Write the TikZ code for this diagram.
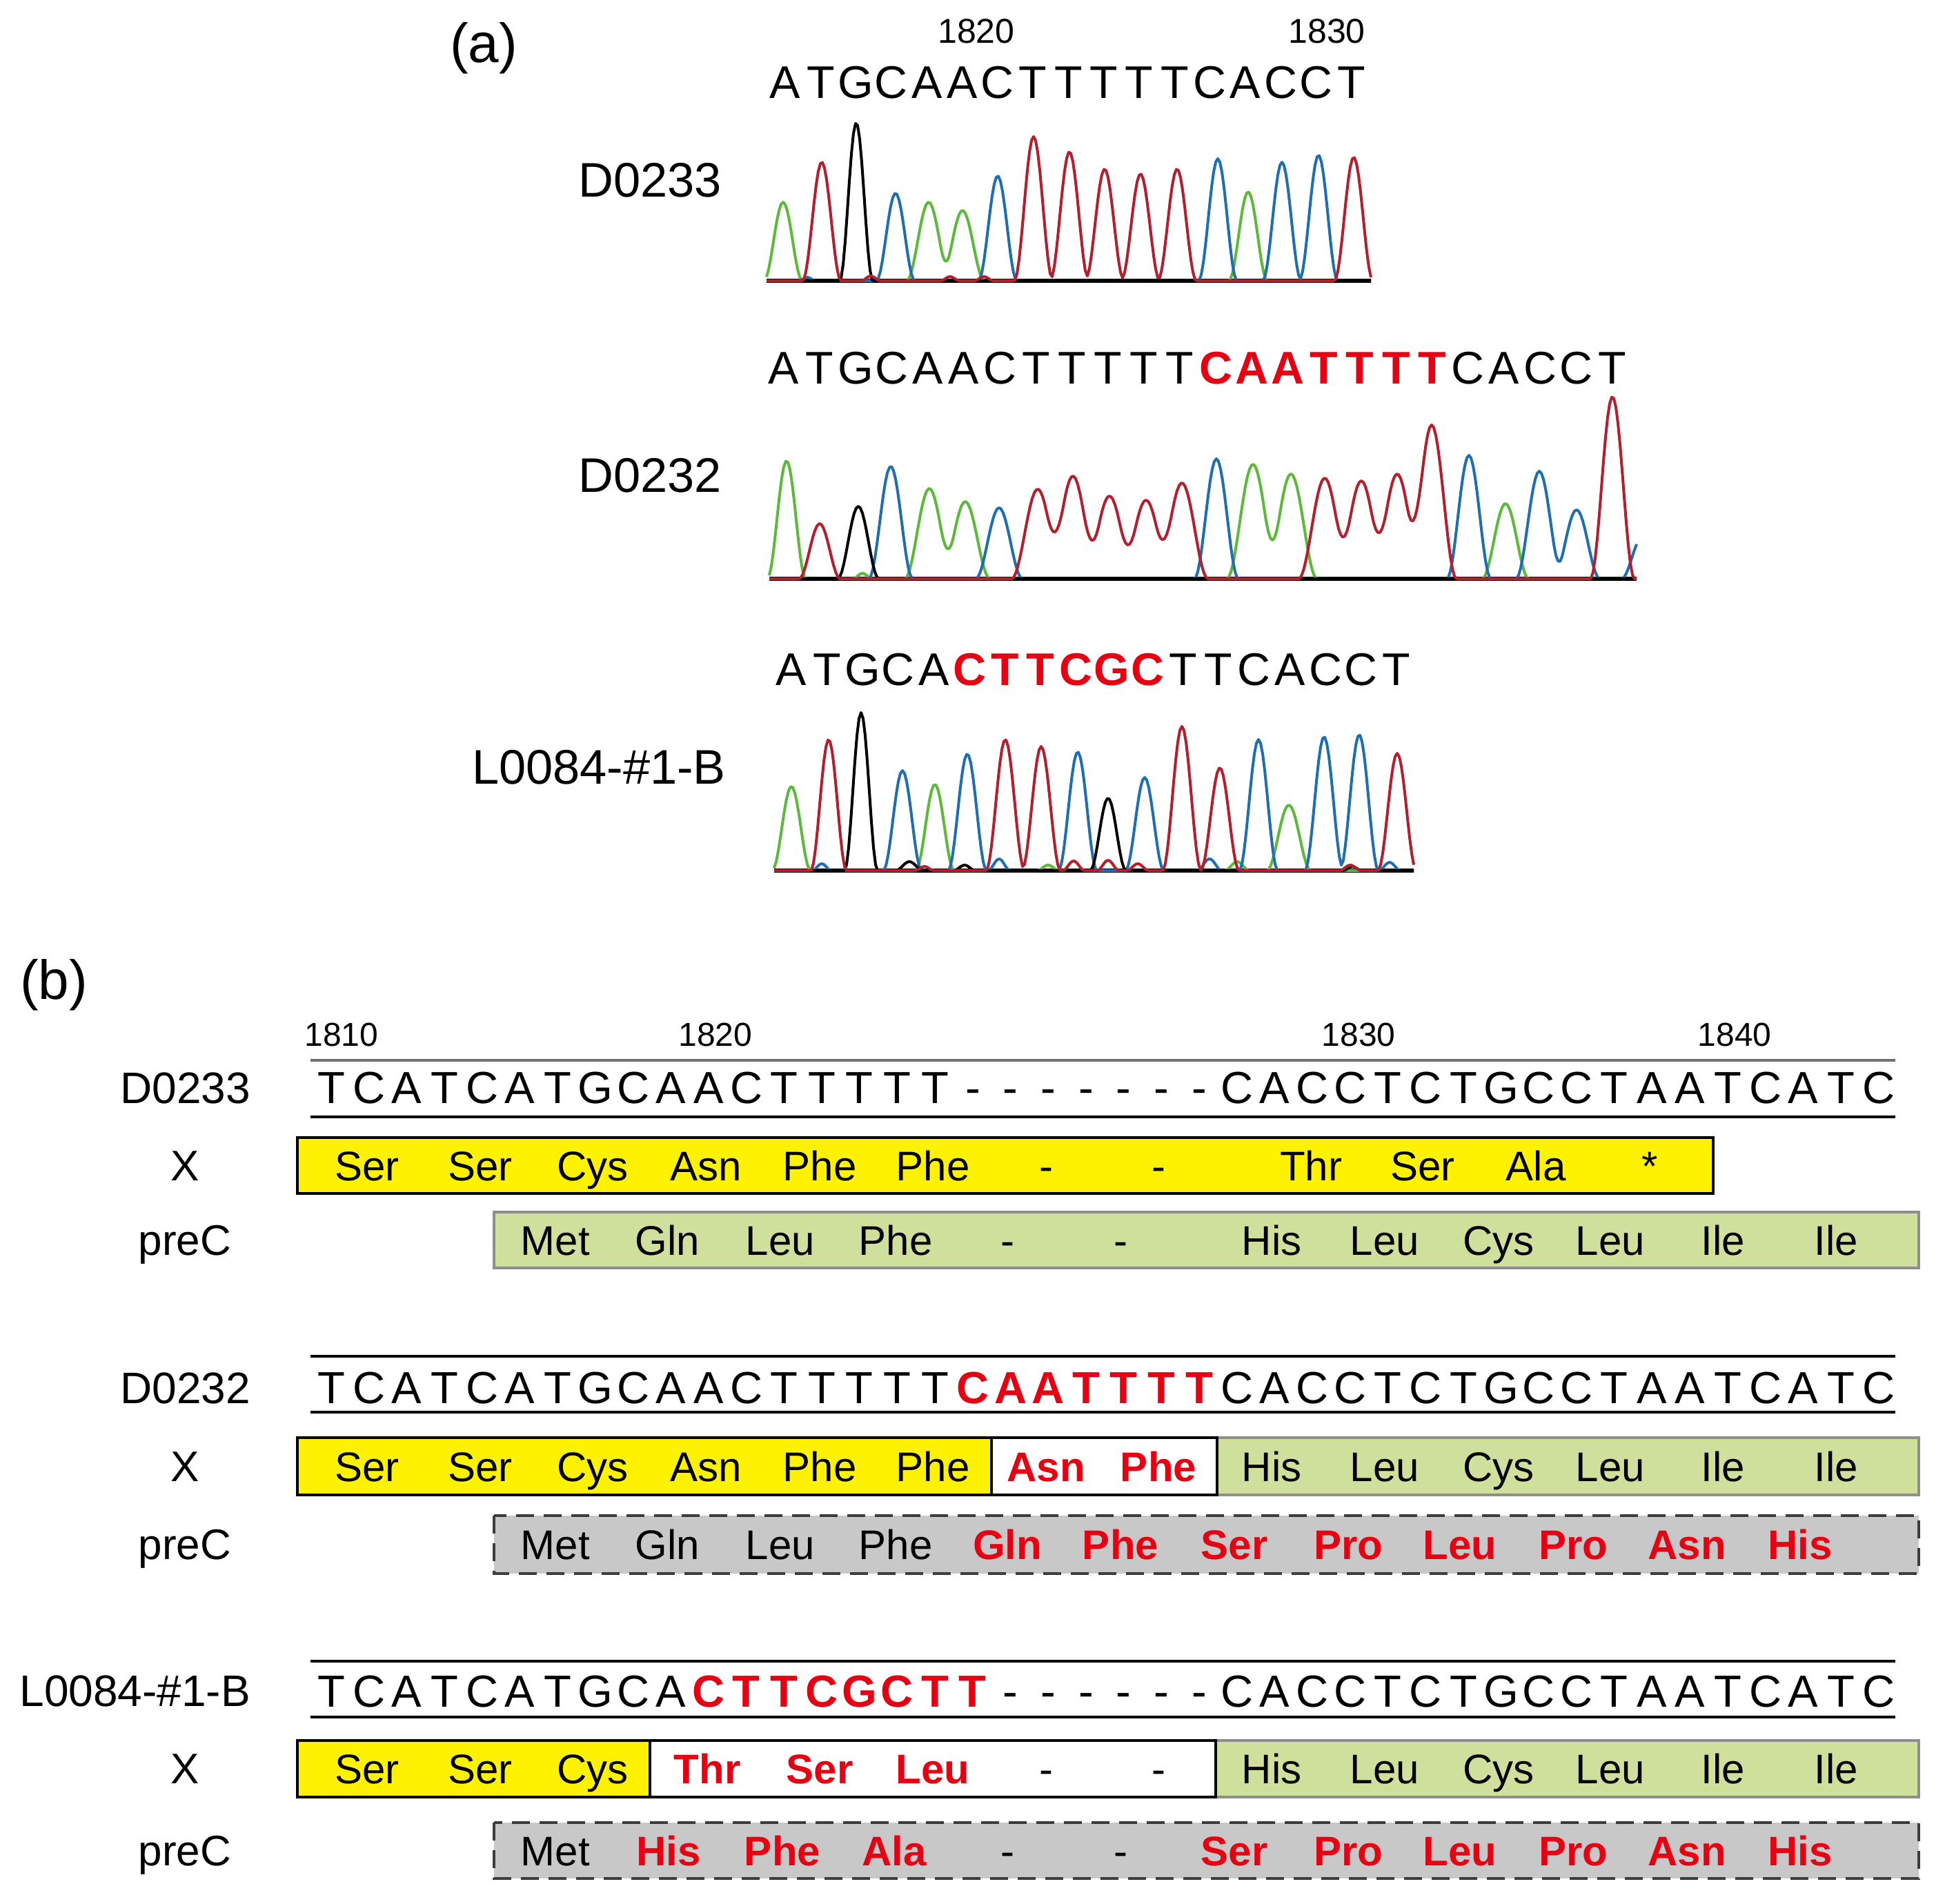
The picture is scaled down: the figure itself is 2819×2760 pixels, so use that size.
\documentclass[tikz,border=0pt]{standalone}
\usepackage{fontspec}
\setmainfont{Liberation Sans}
\definecolor{hlred}{HTML}{E60012}
\definecolor{tgreen}{HTML}{5DB93A}
\definecolor{tred}{HTML}{B41E2D}
\definecolor{tblue}{HTML}{1E6EB4}
\definecolor{xyellow}{HTML}{FFF200}
\definecolor{xgreen}{HTML}{CFE09C}
\definecolor{xgray}{HTML}{C8C8C8}
\definecolor{boxgray}{HTML}{8E8E8E}
\definecolor{dashgray}{HTML}{3C3C3C}
\definecolor{linegray}{HTML}{707070}
\newcommand\rr[1]{\textcolor{hlred}{\bfseries #1}}
\newcommand\fsz[1]{\fontsize{#1}{#1}\selectfont}
\tikzset{
  declare function={pk(\xa,\xc,\xh,\xw)=\xh*cos(90*min(abs((\xa-\xc)/\xw),1))*cos(90*min(abs((\xa-\xc)/\xw),1));},
  txt/.style={anchor=base, inner sep=0pt, outer sep=0pt},
  panel/.style={txt, font=\fsz{20}},
  numa/.style={txt, font=\fsz{12.5}},
  seqa/.style={txt, font=\fsz{16.6}},
  laba/.style={txt, anchor=base east, font=\fsz{17.6}},
  numb/.style={txt, font=\fsz{12}},
  seqb/.style={txt, font=\fsz{16.3}},
  labb/.style={txt, anchor=base east, font=\fsz{16}},
  rowlab/.style={txt, font=\fsz{15.5}},
  aa/.style={txt, font=\fsz{15}},
  ybox/.style={fill=xyellow, draw=black, line width=0.9pt},
  wbox/.style={fill=white, draw=black, line width=0.9pt},
  gbox/.style={fill=xgreen, draw=boxgray, line width=0.8pt},
  dbox/.style={fill=xgray, draw=dashgray, line width=1pt, dash pattern=on 6.5pt off 3.5pt},
  trace/.style={line width=1pt, line join=round},
  baseln/.style={line width=1.5pt, black},
  seqline/.style={line width=1pt, black},
}
\begin{document}
\begin{tikzpicture}[x=0.25pt,y=-0.25pt]
\fill[white] (0,0) rectangle (2819,2760);
\useasboundingbox (0,0) rectangle (2819,2760);

% ---------------- panel (a) ----------------
\node[panel] (pa) at (701,91) {(a)};
\node[numa] (n1820a) at (1415,63) {1820};
\node[numa] (n1830a) at (1923,63) {1830};

\node[laba] (la1) at (1046,286) {D0233};
\node[laba] (la2) at (1046,714) {D0232};
\node[laba] (la3) at (1052,1136) {L0084-\#1-B};

\foreach \ch [count=\k] in {A,T,G,C,A,A,C,T,T,T,T,T,C,A,C,C,T}
  \node[seqa] (sa-\k) at ({1138+(\k-1)*51.3},143) {\ch};
\foreach \ch [count=\k] in {A,T,G,C,A,A,C,T,T,T,T,T,\rr{C},\rr{A},\rr{A},\rr{T},\rr{T},\rr{T},\rr{T},C,A,C,C,T}
  \node[seqa] (sb-\k) at ({1136+(\k-1)*52.2},557) {\ch};
\foreach \ch [count=\k] in {A,T,G,C,A,\rr{C},\rr{T},\rr{T},\rr{C},\rr{G},\rr{C},T,T,C,A,C,C,T}
  \node[seqa] (sc-\k) at ({1147+(\k-1)*51.6},993) {\ch};

% chromatogram 1
\draw[baseln] (1111,407) -- (1987,407);
\draw[trace,tgreen] plot[domain=1111:1987,samples=293] (\x,{407-pk(\x,1135,114,28)-pk(\x,1346,114,32)-pk(\x,1395,102,32)-pk(\x,1809,129,28)});
\draw[trace,tblue] plot[domain=1111:1987,samples=293] (\x,{407-pk(\x,1298,127,28)-pk(\x,1446,152,28)-pk(\x,1765,177,28)-pk(\x,1858,172,28)-pk(\x,1911,182,28)-pk(\x,1170,5,12)});
\draw[trace,black] plot[domain=1111:1987,samples=293] (\x,{407-pk(\x,1241,229,24)});
\draw[trace,tred] plot[domain=1111:1987,samples=293] (\x,{407-pk(\x,1191,172,28)-pk(\x,1498,209,28)-pk(\x,1550,187,28)-pk(\x,1601,162,28)-pk(\x,1653,155,28)-pk(\x,1706,162,28)-pk(\x,1962,179,28)-pk(\x,1262,7,14)-pk(\x,1377,6,14)-pk(\x,1426,6,14)});

% chromatogram 2
\draw[baseln] (1115,839) -- (2372,839);
\draw[trace,tgreen] plot[domain=1115:2372,samples=420] (\x,{839-pk(\x,1140,171,28)-pk(\x,1347,131,36)-pk(\x,1399,112,36)-pk(\x,1816,166,38)-pk(\x,1871,152,38)-pk(\x,2182,109,34)-pk(\x,1250,8,14)});
\draw[trace,tblue] plot[domain=1115:2372,samples=420] (\x,{839-pk(\x,1291,163,32)-pk(\x,1448,103,34)-pk(\x,1763,174,32)-pk(\x,2129,179,32)-pk(\x,2231,156,34)-pk(\x,2285,100,34)-pk(\x,2380,60,30)});
\draw[trace,black] plot[domain=1115:2372,samples=420] (\x,{839-pk(\x,1244,105,30)});
\draw[trace,tred] plot[domain=1115:2372,samples=420] (\x,{839-pk(\x,1188,80,30)-pk(\x,1504,130,38)-pk(\x,1555,149,38)-pk(\x,1608,120,38)-pk(\x,1661,114,38)-pk(\x,1713,139,38)-pk(\x,1920,146,38)-pk(\x,1973,142,38)-pk(\x,2025,152,38)-pk(\x,2075,223,36)-pk(\x,2337,264,32)});

% chromatogram 3
\draw[baseln] (1122,1262) -- (2049,1262);
\draw[trace,tgreen] plot[domain=1122:2049,samples=310] (\x,{1262-pk(\x,1147,122,28)-pk(\x,1355,125,28)-pk(\x,1868,95,32)-pk(\x,1519,8,16)-pk(\x,1793,13,18)});
\draw[trace,tblue] plot[domain=1122:2049,samples=310] (\x,{1262-pk(\x,1308,145,28)-pk(\x,1402,169,28)-pk(\x,1562,172,28)-pk(\x,1659,135,28)-pk(\x,1824,190,28)-pk(\x,1919,194,28)-pk(\x,1970,197,28)-pk(\x,1191,10,14)-pk(\x,1448,17,16)-pk(\x,1753,17,18)-pk(\x,2014,12,16)});
\draw[trace,black] plot[domain=1122:2049,samples=310] (\x,{1262-pk(\x,1248,229,24)-pk(\x,1606,105,26)-pk(\x,1318,13,20)-pk(\x,1398,8,16)-pk(\x,1960,6,14)});
\draw[trace,tred] plot[domain=1122:2049,samples=310] (\x,{1262-pk(\x,1201,190,26)-pk(\x,1457,190,28)-pk(\x,1509,180,28)-pk(\x,1713,209,28)-pk(\x,1768,149,28)-pk(\x,2025,170,28)-pk(\x,1556,14,16)-pk(\x,1606,15,16)-pk(\x,1649,10,16)-pk(\x,1957,8,16)-pk(\x,1340,6,14)});

% ---------------- panel (b) ----------------
\node[panel] (pb) at (78,1448) {(b)};
\node[numb] (n1810) at (495,1516) {1810};
\node[numb] (n1820b) at (1037,1516) {1820};
\node[numb] (n1830b) at (1969,1516) {1830};
\node[numb] (n1840) at (2514,1516) {1840};

% block 1: D0233
\draw[seqline,linegray] (450,1537) -- (2747,1537);
\draw[seqline] (450,1619) -- (2747,1619);
\node[labb] (lb1) at (363,1599) {D0233};
\foreach \ch [count=\k] in {T,C,A,T,C,A,T,G,C,A,A,C,T,T,T,T,T,-,-,-,-,-,-,-,C,A,C,C,T,C,T,G,C,C,T,A,A,T,C,A,T,C}
  \node[seqb] (r1-\k) at ({480+(\k-1)*54.7},1599) {\ch};
\draw[ybox] (431,1649) rectangle (2483,1730);
\draw[gbox] (716,1757) rectangle (2781,1838);
\node[rowlab] (x1) at (268,1711) {X};
\node[rowlab] (p1) at (268,1819) {preC};
\foreach \xx/\t [count=\k] in {532/Ser,696/Ser,859/Cys,1023/Asn,1188/Phe,1352/Phe,1516/-,1679/-,1900/Thr,2062/Ser,2226/Ala,2391/*}
  \node[aa] (xa1-\k) at (\xx,1711) {\t};
\foreach \xx/\t [count=\k] in {805/Met,967/Gln,1131/Leu,1298/Phe,1460/-,1624/-,1843/His,2007/Leu,2172/Cys,2334/Leu,2497/Ile,2661/Ile}
  \node[aa] (pa1-\k) at (\xx,1819) {\t};

% block 2: D0232
\draw[seqline] (450,1966) -- (2747,1966);
\draw[seqline] (450,2047) -- (2747,2047);
\node[labb] (lb2) at (363,2034) {D0232};
\foreach \ch [count=\k] in {T,C,A,T,C,A,T,G,C,A,A,C,T,T,T,T,T,\rr{C},\rr{A},\rr{A},\rr{T},\rr{T},\rr{T},\rr{T},C,A,C,C,T,C,T,G,C,C,T,A,A,T,C,A,T,C}
  \node[seqb] (r2-\k) at ({480+(\k-1)*54.7},2034) {\ch};
\draw[ybox] (431,2084) rectangle (1437,2167);
\draw[gbox] (1764,2084) rectangle (2781,2167);
\draw[wbox] (1437,2084) rectangle (1764,2167);
\draw[dbox] (716,2197) rectangle (2781,2281);
\node[rowlab] (x2) at (268,2147) {X};
\node[rowlab] (p2) at (268,2260) {preC};
\foreach \xx/\t [count=\k] in {532/Ser,696/Ser,859/Cys,1023/Asn,1188/Phe,1352/Phe,1516/\rr{Asn},1679/\rr{Phe},1843/His,2007/Leu,2172/Cys,2334/Leu,2497/Ile,2661/Ile}
  \node[aa] (xa2-\k) at (\xx,2147) {\t};
\foreach \xx/\t [count=\k] in {805/Met,967/Gln,1131/Leu,1298/Phe,1460/\rr{Gln},1624/\rr{Phe},1789/\rr{Ser},1954/\rr{Pro},2116/\rr{Leu},2280/\rr{Pro},2445/\rr{Asn},2609/\rr{His}}
  \node[aa] (pa2-\k) at (\xx,2260) {\t};

% block 3: L0084-#1-B
\draw[seqline] (450,2408) -- (2747,2408);
\draw[seqline] (450,2489) -- (2747,2489);
\node[labb] (lb3) at (363,2473) {L0084-\#1-B};
\foreach \ch [count=\k] in {T,C,A,T,C,A,T,G,C,A,\rr{C},\rr{T},\rr{T},\rr{C},\rr{G},\rr{C},\rr{T},\rr{T},-,-,-,-,-,-,C,A,C,C,T,C,T,G,C,C,T,A,A,T,C,A,T,C}
  \node[seqb] (r3-\k) at ({480+(\k-1)*54.7},2474) {\ch};
\draw[ybox] (431,2523) rectangle (942,2605);
\draw[gbox] (1762,2523) rectangle (2781,2605);
\draw[wbox] (942,2523) rectangle (1762,2605);
\draw[dbox] (716,2642) rectangle (2781,2723);
\node[rowlab] (x3) at (268,2585) {X};
\node[rowlab] (p3) at (268,2704) {preC};
\foreach \xx/\t [count=\k] in {532/Ser,696/Ser,859/Cys,1025/\rr{Thr},1188/\rr{Ser},1352/\rr{Leu},1516/-,1679/-,1843/His,2007/Leu,2172/Cys,2334/Leu,2497/Ile,2661/Ile}
  \node[aa] (xa3-\k) at (\xx,2585) {\t};
\foreach \xx/\t [count=\k] in {805/Met,969/\rr{His},1134/\rr{Phe},1296/\rr{Ala},1460/-,1624/-,1789/\rr{Ser},1954/\rr{Pro},2116/\rr{Leu},2280/\rr{Pro},2445/\rr{Asn},2609/\rr{His}}
  \node[aa] (pa3-\k) at (\xx,2704) {\t};
\end{tikzpicture}
\end{document}
